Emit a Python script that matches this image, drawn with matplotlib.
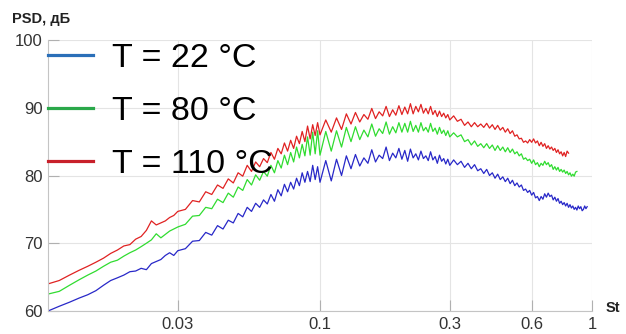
import matplotlib
matplotlib.use("Agg")
import matplotlib.pyplot as plt
from matplotlib.lines import Line2D
import numpy as np

plt.rcParams['font.family'] = ['Liberation Sans', 'DejaVu Sans']

# Strouhal number bins (x 1/1000)
st_milli = [10, 11, 12, 13, 14, 15, 16, 17, 18, 19, 20, 21, 22, 23, 24, 25, 26, 27, 28, 29, 30,
            32, 34, 36, 38, 40, 42, 44, 46, 48, 50, 52, 54, 56, 58, 60, 62, 64, 66, 68, 70,
            72, 74, 76, 78, 80, 82, 84, 86, 88, 90, 92, 94, 96, 98, 100,
            105, 110, 115, 120, 125, 130, 135, 140, 145, 150, 155, 160, 165, 170, 175, 180,
            185, 190, 195, 200, 205, 210, 215, 220, 225, 230, 235, 240, 245, 250, 255, 260,
            265, 270, 275, 280, 285, 290, 295, 300,
            310, 320, 330, 340, 350, 360, 370, 380, 390, 400, 410, 420, 430, 440, 450, 460,
            470, 480, 490, 500, 510, 520, 530, 540, 550, 560, 570, 580, 590, 600, 610, 620,
            630, 640, 650, 660, 670, 680, 690, 700, 710, 720, 730, 740, 750, 760, 770, 780,
            790, 800, 810, 820, 830, 840, 850, 860, 870, 880, 890, 900, 910, 920, 930, 940,
            950, 960]

psd_22 = [60.0, 60.7, 61.3, 61.9, 62.4, 63.0, 63.8, 64.5, 64.9, 65.3, 65.8, 65.9, 66.3, 66.1,
          67.0, 67.3, 67.6, 68.2, 68.6, 68.2, 68.9,
          69.2, 70.3, 70.4, 71.6, 71.2, 72.6, 72.1, 73.4, 73.0, 74.4, 73.9, 75.3, 74.7, 75.9,
          75.3, 76.4, 75.8, 77.2, 76.2, 77.9, 77.0, 78.7, 77.6, 79.0, 78.0, 79.6, 78.5, 80.4,
          79.0, 80.6, 79.1, 81.5, 79.4, 81.3, 79.0,
          82.2, 79.2, 82.4, 80.0, 82.9, 81.0, 83.1, 81.4, 82.6, 81.8, 83.8, 82.0, 83.0, 82.5,
          84.2, 82.2, 83.3, 82.6, 84.0, 82.4, 83.7, 82.1, 83.9, 82.6, 83.2, 82.3, 83.6, 82.5,
          82.9, 82.2, 83.5, 82.3, 82.8, 81.8, 83.0, 82.1, 82.5, 81.7, 82.4, 81.5,
          82.3, 81.6, 82.1, 81.2, 81.8, 81.0, 81.6, 80.7, 81.0, 80.3, 80.9, 80.0, 80.4, 79.6,
          80.2, 79.4, 79.8, 79.1, 79.6, 78.8, 79.3, 78.5, 78.9, 78.3, 78.6, 77.8, 78.0, 77.5,
          77.8, 77.1, 77.5, 76.7, 76.9, 76.3, 76.9, 76.5, 77.3, 76.8, 77.4, 76.9, 77.1, 76.4,
          76.8, 76.2, 76.6, 75.9, 76.2, 75.7, 76.0, 75.5, 75.9, 75.3, 75.7, 75.2, 75.5, 75.0,
          75.3, 74.9, 75.5, 75.1, 75.4, 74.8, 75.0, 75.5, 75.1, 75.4]

psd_80 = [62.5, 62.9, 63.8, 64.6, 65.3, 65.9, 66.6, 67.2, 67.5, 68.1, 68.6, 69.0, 69.5, 70.0,
          70.5, 71.4, 70.8, 71.3, 71.8, 72.1, 72.4,
          72.8, 74.0, 74.1, 75.3, 75.1, 76.5, 76.0, 77.4, 76.8, 78.3, 77.8, 79.4, 78.6, 80.1,
          79.3, 80.6, 79.9, 81.5, 80.4, 82.2, 81.1, 83.0, 81.6, 83.4, 82.0, 84.2, 82.6, 84.6,
          82.9, 85.7, 83.0, 86.4, 83.2, 86.6, 83.0,
          86.5, 83.6, 86.6, 84.2, 87.1, 85.0, 87.2, 85.3, 86.7, 85.7, 87.6, 85.8, 86.9, 86.2,
          87.9, 86.1, 87.2, 86.3, 87.8, 86.4, 87.7, 86.4, 88.0, 86.5, 87.4, 86.4, 87.8, 86.6,
          87.1, 86.4, 87.7, 86.5, 87.0, 86.1, 87.1, 86.2, 86.7, 85.9, 86.6, 85.7,
          86.3, 85.7, 86.0, 85.0, 85.3, 84.5, 85.1, 84.3, 84.7, 84.1, 84.7, 84.0, 84.5, 83.7,
          84.4, 83.7, 84.2, 83.5, 84.1, 83.4, 83.9, 83.2, 83.5, 82.9, 83.2, 82.4, 82.6, 82.2,
          82.4, 81.8, 82.3, 81.6, 81.9, 81.3, 81.8, 81.5, 82.1, 81.6, 81.9, 81.3, 81.6, 80.9,
          81.3, 80.8, 81.2, 80.6, 80.9, 80.5, 80.8, 80.3, 80.6, 80.1, 80.4, 79.9, 80.2, 79.9,
          80.5, 80.6]

psd_110 = [64.0, 64.5, 65.3, 66.0, 66.6, 67.2, 67.8, 68.5, 69.0, 69.6, 69.8, 70.6, 71.0, 71.9,
           73.3, 72.7, 73.0, 73.3, 73.8, 74.1, 74.7,
           75.0, 76.3, 76.1, 77.6, 77.2, 78.6, 78.1, 79.5, 78.9, 80.4, 79.9, 81.5, 80.6, 82.0,
           81.3, 82.5, 81.9, 83.4, 82.4, 84.0, 83.2, 84.8, 83.6, 85.2, 84.0, 85.8, 84.7, 86.5,
           85.0, 87.3, 85.4, 87.5, 85.9, 87.8, 86.0,
           88.2, 86.4, 88.5, 86.8, 89.1, 87.6, 89.3, 87.9, 89.0, 88.3, 89.9, 88.4, 89.4, 88.8,
           90.2, 88.7, 89.7, 88.9, 90.3, 89.0, 90.1, 89.1, 90.6, 89.1, 90.2, 89.4, 90.5, 89.2,
           89.9, 89.1, 90.2, 89.0, 89.6, 88.7, 89.5, 88.7, 89.2, 88.5, 89.0, 88.2,
           88.8, 88.0, 88.3, 87.4, 87.9, 87.2, 87.8, 87.2, 87.6, 87.1, 87.7, 87.0, 87.5, 86.8,
           87.4, 86.7, 87.1, 86.4, 86.9, 86.2, 86.6, 85.8, 86.0, 85.4, 85.5, 84.9, 85.1, 84.8,
           85.3, 84.9, 85.4, 84.8, 85.1, 84.4, 84.9, 84.3, 84.7, 84.0, 84.4, 83.9, 84.2, 83.7,
           84.0, 83.4, 83.8, 83.2, 83.5, 82.9, 83.4, 82.8, 83.6, 83.3]

labels = ['T = 22 °C', 'T = 80 °C', 'T = 110 °C']
line_colors = ['#2828c8', '#30dc30', '#e02222']
legend_colors = ['#2a6fb8', '#2aa84a', '#c8202a']

xticks = [0.03, 0.1, 0.3, 0.6, 1]
xticklabels = ['0.03', '0.1', '0.3', '0.6', '1']
yticks = [60, 70, 80, 90, 100]

st = np.array(st_milli) / 1000.0

fig = plt.figure(figsize=(6.26, 3.34), dpi=100)
ax = fig.add_axes([48 / 626, 1 - 311 / 334, (592 - 48) / 626, (311 - 40) / 334])

for y, c in zip([psd_22, psd_80, psd_110], line_colors):
    ax.plot(st[:len(y)], y, color=c, lw=0.9)

ax.set_xscale('log')
ax.set_xlim(0.01, 1)
ax.set_ylim(60, 100)
ax.set_xticks(xticks)
ax.set_xticklabels(xticklabels)
ax.xaxis.set_minor_locator(matplotlib.ticker.NullLocator())
ax.set_yticks(yticks)
ax.grid(True, color='#e4e4e4', lw=0.8)
ax.set_axisbelow(True)
for s in ['top', 'right']:
    ax.spines[s].set_visible(False)
for s in ['left', 'bottom']:
    ax.spines[s].set_color('#c4c4c4')
ax.tick_params(direction='in', length=8, color='#b0b0b0', labelsize=12,
               labelcolor='#333333')
ax.tick_params(axis='x', pad=4)
ax.tick_params(axis='y', pad=4)

fig.text(12 / 626, 1 - 19 / 334, 'PSD, дБ', fontsize=10.5, fontweight='bold',
         va='center', ha='left', color='#222222')
fig.text(606 / 626, 1 - 308 / 334, 'St', fontsize=10.5, fontweight='bold',
         va='center', ha='left', color='#222222')

handles = [Line2D([], [], color=c, lw=2.3) for c in legend_colors]
ax.legend(handles, labels, loc='upper left', bbox_to_anchor=(0.0, 1.0 - 3 / 271),
          frameon=False, fontsize=24.5, handlelength=1.32, handletextpad=0.55,
          labelspacing=0.65, borderaxespad=0.0, borderpad=0.0)

fig.savefig('out.png', dpi=100)
